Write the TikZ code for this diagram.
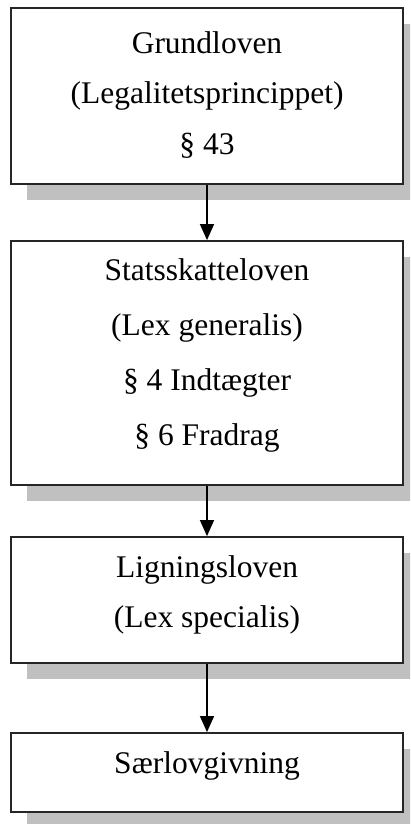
\documentclass[tikz,border=0pt]{standalone}
\usepackage{fontspec}
\setmainfont{Liberation Serif}
\usetikzlibrary{arrows.meta}
\definecolor{shade}{RGB}{192,192,192}
\begin{document}
\begin{tikzpicture}[x=1pt,y=-1pt,
  boxstyle/.style={draw=black!85,line width=1.8pt,fill=white},
  shadowstyle/.style={fill=shade,draw=none},
  txt/.style={anchor=base,inner sep=0pt,font=\fontsize{31.5}{38}\selectfont,text=black},
  conn/.style={line width=1.4pt,-{Triangle[length=16pt,width=14pt]}}]
\useasboundingbox (0,0) rectangle (410,824);
\begin{scope}
\clip (0,0) rectangle (410,824);
% shadows
\fill[shadowstyle] (27,24) rectangle (419,200);
\fill[shadowstyle] (27,257) rectangle (419,501);
\fill[shadowstyle] (27,553) rectangle (419,679);
\fill[shadowstyle] (27,749) rectangle (419,828);
\end{scope}
% boxes
\node[boxstyle,minimum width=392pt,minimum height=176pt,inner sep=0pt] (b1) at (207,96) {};
\node[boxstyle,minimum width=392pt,minimum height=244pt,inner sep=0pt] (b2) at (207,363) {};
\node[boxstyle,minimum width=392pt,minimum height=126pt,inner sep=0pt] (b3) at (207,600) {};
\node[boxstyle,minimum width=392pt,minimum height=79pt,inner sep=0pt] (b4) at (207,772.5) {};
% texts
\node[txt] (t11) at (207,54) {Grundloven};
\node[txt] (t12) at (207,104) {(Legalitetsprincippet)};
\node[txt] (t13) at (207,154) {§ 43};
\node[txt] (t21) at (207,280) {Statsskatteloven};
\node[txt] (t22) at (207,335) {(Lex generalis)};
\node[txt] (t23) at (207,390) {§ 4 Indtægter};
\node[txt] (t24) at (207,445) {§ 6 Fradrag};
\node[txt] (t31) at (207,577) {Ligningsloven};
\node[txt] (t32) at (207,627) {(Lex specialis)};
\node[txt] (t41) at (207,773) {Særlovgivning};
% connectors
\draw[conn] (b1.south) -- (b2.north);
\draw[conn] (b2.south) -- (b3.north);
\draw[conn] (b3.south) -- (b4.north);
\end{tikzpicture}
\end{document}
